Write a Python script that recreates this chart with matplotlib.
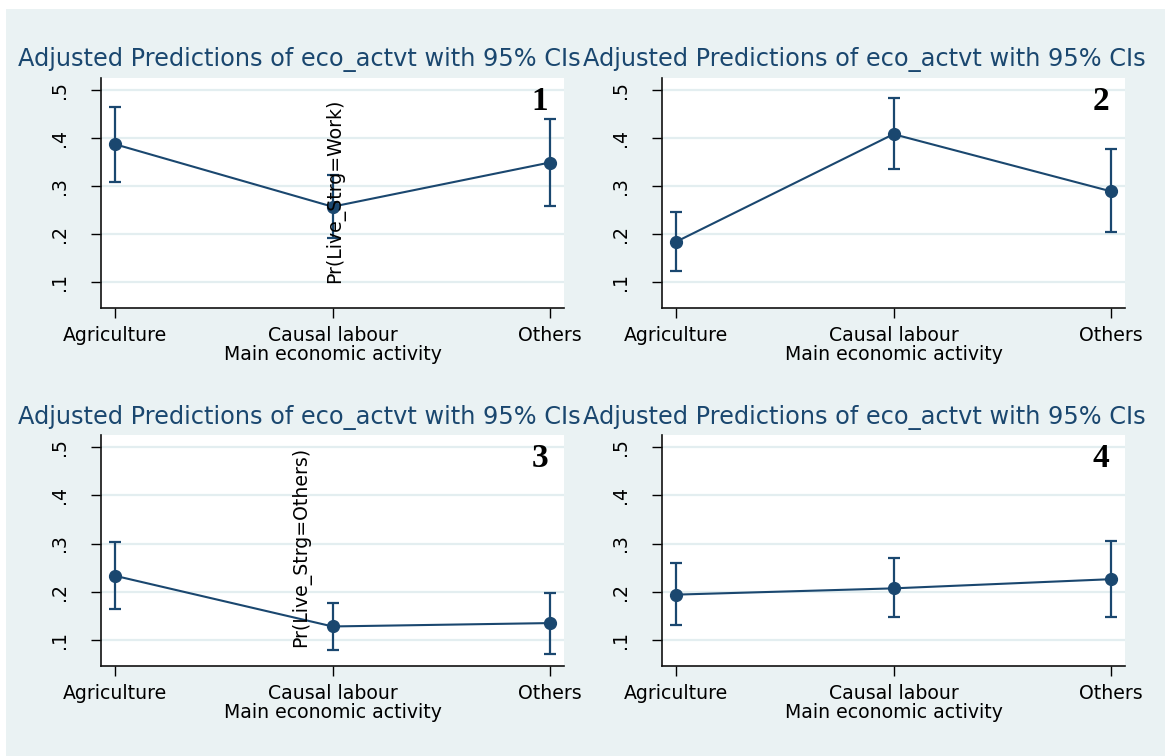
import matplotlib
matplotlib.use('Agg')

import numpy as np
import matplotlib.pyplot as plt
from matplotlib.patches import Rectangle

categories = ['Agriculture', 'Causal labour', 'Others']
yticks = [0.1, 0.2, 0.3, 0.4, 0.5]
ytick_labels = ['.1', '.2', '.3', '.4', '.5']

# panel 1: Pr(Live_Strg=Work)
p1_pred = [0.387, 0.257, 0.349]
p1_lo = [0.308, 0.192, 0.259]
p1_hi = [0.465, 0.322, 0.440]

# panel 2
p2_pred = [0.184, 0.408, 0.289]
p2_lo = [0.123, 0.335, 0.204]
p2_hi = [0.245, 0.483, 0.377]

# panel 3: Pr(Live_Strg=Others)
p3_pred = [0.233, 0.128, 0.135]
p3_lo = [0.165, 0.079, 0.071]
p3_hi = [0.303, 0.177, 0.198]

# panel 4
p4_pred = [0.194, 0.207, 0.226]
p4_lo = [0.131, 0.147, 0.147]
p4_hi = [0.259, 0.269, 0.305]

title = 'Adjusted Predictions of eco_actvt with 95% CIs'
xlabel = 'Main economic activity'

NAVY = '#1a476f'
BG = '#eaf2f3'
W, H = 1165, 756

fig = plt.figure(figsize=(W / 100, H / 100), dpi=100)
fig.patch.set_facecolor('white')
fig.patches.append(Rectangle((6 / W, 0), 1 - 6 / W, 1 - 9 / H,
                             transform=fig.transFigure, facecolor=BG,
                             edgecolor='none', zorder=-10))


def panel(box, title_xy, pred, lo, hi, num, ylab=None, ylab_xy=None):
    left, top, right, bottom = box
    ax = fig.add_axes([left / W, 1 - bottom / H, (right - left) / W, (bottom - top) / H])
    ax.set_facecolor('white')
    x = np.arange(1, len(categories) + 1)
    pred = np.array(pred)
    err = [pred - np.array(lo), np.array(hi) - pred]
    ax.errorbar(x, pred, yerr=err, fmt='none', ecolor=NAVY, elinewidth=1.6,
                capsize=4.5, capthick=1.6, zorder=3)
    ax.plot(x, pred, '-o', color=NAVY, lw=1.5, markersize=8.5, zorder=4)

    ax.set_xlim(0.935, 3.065)
    ax.set_ylim(0.046, 0.525)
    ax.set_yticks(yticks)
    ax.set_yticklabels(ytick_labels, rotation=90, va='center')
    ax.set_xticks(x)
    ax.set_xticklabels(categories)
    ax.grid(axis='y', color='#e3eef0', lw=1.6)
    ax.set_axisbelow(True)
    for s in ['top', 'right']:
        ax.spines[s].set_visible(False)
    for s in ['left', 'bottom']:
        ax.spines[s].set_linewidth(1.2)
        ax.spines[s].set_color('#111111')
    ax.tick_params(axis='y', length=7, width=1, pad=16, labelsize=13.6)
    ax.tick_params(axis='x', length=7, width=1, pad=6, labelsize=13.6)
    ax.set_xlabel(xlabel, fontsize=13.6, labelpad=0)

    fig.text(title_xy[0] / W, 1 - title_xy[1] / H, title, fontsize=17.3,
             color=NAVY, ha='center', va='center')
    ax.text(2.955, 0.477, num, fontsize=24, fontweight='bold',
            family='Liberation Serif', ha='center', va='center')
    if ylab:
        ax.text(ylab_xy[0], ylab_xy[1], ylab, rotation=90, fontsize=13.6,
                ha='center', va='bottom', zorder=5)
    return ax


panel((101, 78, 564, 308), (299.5, 60), p1_pred, p1_lo, p1_hi, '1',
      'Pr(Live_Strg=Work)', (2.011, 0.098))
panel((662, 78, 1125, 308), (864, 60), p2_pred, p2_lo, p2_hi, '2')
panel((101, 435, 564, 666), (299.5, 418), p3_pred, p3_lo, p3_hi, '3',
      'Pr(Live_Strg=Others)', (1.857, 0.0855))
panel((662, 435, 1125, 666), (864, 418), p4_pred, p4_lo, p4_hi, '4')

fig.savefig('out.png', dpi=100)
